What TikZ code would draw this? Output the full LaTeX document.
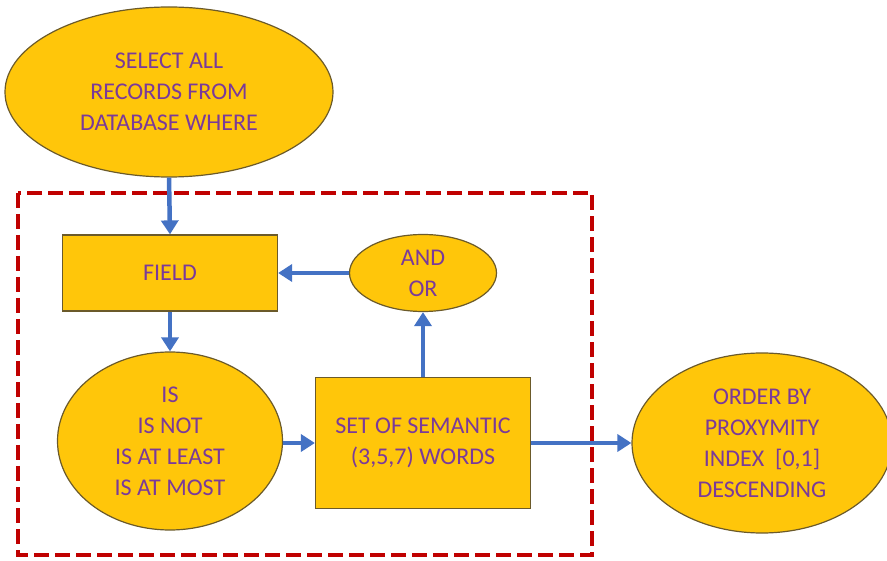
\documentclass[tikz,border=0pt]{standalone}
\usepackage{fontspec}
\setmainfont{Carlito}
\usetikzlibrary{arrows.meta,shapes.geometric}
\definecolor{gold}{HTML}{FFC60A}
\definecolor{goldedge}{HTML}{6B5A2A}
\definecolor{txt}{HTML}{7A3A9A}
\definecolor{arrowblue}{HTML}{4472C4}
\definecolor{dashred}{HTML}{C00000}
\tikzset{
  basebox/.style={fill=gold,draw=goldedge,line width=1.2pt,text=txt,align=center,
    font=\fontsize{24}{31}\selectfont,inner sep=0pt},
  ellbox/.style={basebox,ellipse},
  rectbox/.style={basebox,rectangle},
  flow/.style={draw=arrowblue,line width=4.5pt,-{Triangle[width=17pt,length=14pt]}},
}
\begin{document}
\begin{tikzpicture}[x=1pt,y=-1pt]
\useasboundingbox (0,0) rectangle (887,561);
\clip (0,0) rectangle (887,561);
\node[ellbox,minimum width=328pt,minimum height=170pt] (sel) at (169,92) {SELECT ALL\\RECORDS FROM\\DATABASE WHERE};
\node[rectbox,minimum width=215pt,minimum height=76pt] (field) at (170,273) {FIELD};
\node[ellbox,minimum width=147pt,minimum height=77pt] (andor) at (423,273) {AND\\OR};
\node[ellbox,minimum width=225pt,minimum height=178pt] (is) at (170,441) {IS\\IS NOT\\IS AT LEAST\\IS AT MOST};
\node[rectbox,minimum width=215pt,minimum height=131pt] (set) at (423,443) {SET OF SEMANTIC\\(3,5,7) WORDS};
\node[ellbox,minimum width=260pt,minimum height=180pt] (order) at (762,443) {ORDER BY\\PROXYMITY\\INDEX~~[0,1]\\DESCENDING};
\coordinate (dtl) at (18,193);
\coordinate (dbr) at (592,555);
\draw[dashred,line width=4pt,dash pattern=on 15pt off 6pt] (dtl) rectangle (dbr);
\draw[flow] (sel.south) -- (field.north);
\draw[flow] (field.south) -- (is.north);
\draw[flow] (andor.west) -- (field.east);
\draw[flow] (set.north) -- (andor.south);
\draw[flow] (is.east |- set.west) -- (set.west);
\draw[flow] (set.east) -- (order.west);
\end{tikzpicture}
\end{document}
